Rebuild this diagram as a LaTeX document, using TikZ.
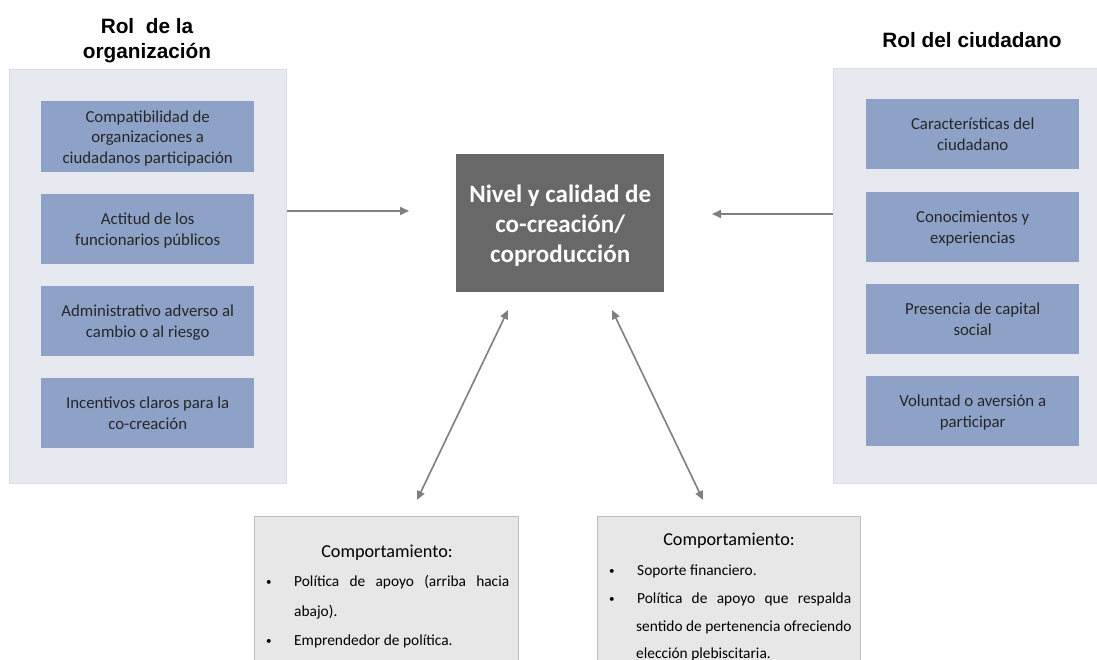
\documentclass[tikz,border=0pt]{standalone}
\usepackage{fontspec}
\setmainfont{Carlito}
\newfontfamily\headfont{Liberation Sans}
\usetikzlibrary{arrows.meta}

\definecolor{panelfill}{HTML}{E6E9EF}
\definecolor{paneledge}{HTML}{D8DCE3}
\definecolor{factorfill}{HTML}{8EA2C8}
\definecolor{corefill}{HTML}{686868}
\definecolor{behfill}{HTML}{E7E7E7}
\definecolor{behedge}{HTML}{BDBDBD}
\definecolor{arrowgrey}{HTML}{7F7F7F}
\definecolor{inkgrey}{HTML}{262626}

\tikzset{
  panel/.style={rectangle, fill=panelfill, draw=paneledge, line width=0.8pt,
    inner sep=0pt, anchor=north west},
  factor/.style={rectangle, fill=factorfill, inner sep=0pt, anchor=north west,
    minimum width=213pt, minimum height=70pt, align=center, text=inkgrey,
    text depth=0pt, font=\fontsize{16.8}{20.5}\selectfont},
  core/.style={rectangle, fill=corefill, inner sep=0pt, anchor=north west,
    minimum width=208pt, minimum height=138pt},
  coretext/.style={align=center, text=white, inner sep=0pt,
    font=\bfseries\fontsize{25}{30}\selectfont},
  behbox/.style={rectangle, fill=behfill, draw=behedge, line width=0.8pt,
    inner sep=0pt, anchor=north west, minimum height=160pt},
  behhead/.style={anchor=base, inner sep=0pt, text=black,
    font=\fontsize{18.2}{20}\selectfont},
  behitem/.style={anchor=base west, inner sep=0pt, text=black,
    font=\fontsize{15.4}{20}\selectfont},
  heading/.style={inner sep=0pt, text=black, align=center,
    font=\headfont\bfseries\fontsize{20.8}{25}\selectfont},
  arr/.style={draw=arrowgrey, line width=1.6pt,
    -{Triangle[length=9pt,width=8pt]}},
  biarr/.style={draw=arrowgrey, line width=1.6pt,
    {Triangle[length=9pt,width=8pt]}-{Triangle[length=9pt,width=8pt]}},
}

% list marker: a small bullet in a fixed-width slot
\newcommand{\bul}{\makebox[28pt][l]{\raisebox{1pt}{\fontsize{11}{11}\selectfont\textbullet}}}

\begin{document}
\begin{tikzpicture}[x=1pt,y=-1pt]
  \clip (0,0) rectangle (1097,660);
  \fill[white] (0,0) rectangle (1097,660);

  % headings
  \node[heading, anchor=north] (orghead) at (147,18) {Rol\ \ de la\\organización};
  \node[heading, anchor=base] (cithead) at (972,48) {Rol del ciudadano};

  % organisation side
  \node[panel, minimum width=277pt, minimum height=414pt] (lpanel) at (9,69) {};
  \node[factor, minimum height=71pt] (o1) at (41,101)
    {Compatibilidad de\\organizaciones a\\ciudadanos participación};
  \node[factor] (o2) at (41,194) {Actitud de los\\funcionarios públicos};
  \node[factor] (o3) at (41,286) {Administrativo adverso al\\cambio o al riesgo};
  \node[factor] (o4) at (41,378) {Incentivos claros para la\\co-creación};

  % citizen side
  \node[panel, minimum width=266pt, minimum height=415pt] (rpanel) at (833,68) {};
  \node[factor] (c1) at (866,99) {Características del\\ciudadano};
  \node[factor] (c2) at (866,192) {Conocimientos y\\experiencias};
  \node[factor] (c3) at (866,284) {Presencia de capital\\social};
  \node[factor] (c4) at (866,376) {Voluntad o aversión a\\participar};

  % central outcome
  \node[core] (core) at (456,154) {};
  \node[coretext, yshift=-2.5pt] (coretxt) at (core.center)
    {Nivel y calidad de\\co-creación/\\coproducción};

  % behaviour boxes
  \node[behbox, minimum width=264pt] (lbeh) at (254,516) {};
  \node[behhead] (lbh) at (387,557) {Comportamiento:};
  \node[behitem] (lb1) at (266,586) {\bul\makebox[215pt][s]{Política de apoyo (arriba hacia}};
  \node[behitem] (lb2) at (294,616) {abajo).};
  \node[behitem] (lb3) at (266,645) {\bul Emprendedor de política.};

  \node[behbox, minimum width=263pt] (rbeh) at (597,516) {};
  \node[behhead] (rbh) at (729,545) {Comportamiento:};
  \node[behitem] (rb1) at (609,575) {\bul Soporte financiero.};
  \node[behitem] (rb2) at (609,603) {\bul\makebox[214pt][s]{Política de apoyo que respalda}};
  \node[behitem] (rb3) at (636,631) {sentido de pertenencia ofreciendo};
  \node[behitem] (rb4) at (636,658) {elección plebiscitaria.};

  % connectors
  \coordinate (lin) at (409,211);
  \coordinate (rin) at (712,214);
  \draw[arr] (lpanel.east |- lin) -- (lin);
  \draw[arr] (rpanel.west |- rin) -- (rin);

  \coordinate (ltop) at (508,310);
  \coordinate (lbot) at (417,500);
  \coordinate (rtop) at (612,310);
  \coordinate (rbot) at (703,500);
  \draw[biarr] (ltop) -- (lbot);
  \draw[biarr] (rtop) -- (rbot);
\end{tikzpicture}
\end{document}
